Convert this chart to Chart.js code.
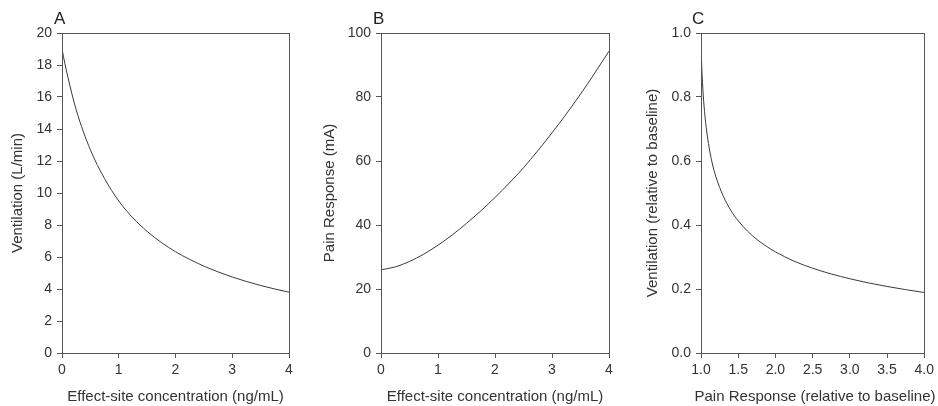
<!DOCTYPE html>
<html>
<head>
<meta charset="utf-8">
<script src="https://cdn.jsdelivr.net/npm/chart.js@4"></script>
<style>
  body { margin: 0; background: #fff; width: 938px; height: 406px; position: relative; overflow: hidden; font-family: 'Liberation Sans', Arial, sans-serif; }
  canvas { position: absolute; top: 0; }
  .tag { position: absolute; top: 10px; font-size: 17px; line-height: 17px; color: #222; }
  .xtitle { position: absolute; top: 387px; width: 300px; text-align: center; font-size: 15px; line-height: 18px; color: #333; white-space: nowrap; }
</style>
</head>
<body>
<canvas id="chartA" width="300" height="406" style="left:0px"></canvas>
<canvas id="chartB" width="300" height="406" style="left:319px"></canvas>
<canvas id="chartC" width="299" height="406" style="left:639px"></canvas>
<div class="tag" style="left:54px">A</div>
<div class="tag" style="left:373px">B</div>
<div class="tag" style="left:692px">C</div>
<div class="xtitle" style="left:665px">Pain Response (relative to baseline)</div>
<script>
// Panel A: ventilation vs effect-site concentration
const concA = [0, 0.05, 0.1, 0.25, 0.5, 0.75, 1, 1.25, 1.5, 1.75, 2, 2.25, 2.5, 2.75, 3, 3.25, 3.5, 3.75, 4];
const ventA = [19.0, 18.1, 17.3, 15.2, 12.7, 10.9, 9.5, 8.44, 7.6, 6.91, 6.33, 5.85, 5.43, 5.07, 4.75, 4.47, 4.22, 4.0, 3.8];

// Panel B: pain response vs effect-site concentration
const concB = [0, 0.25, 0.5, 0.75, 1, 1.25, 1.5, 1.75, 2, 2.25, 2.5, 2.75, 3, 3.25, 3.5, 3.75, 4];
const painB = [26.0, 26.9, 28.6, 30.9, 33.7, 36.9, 40.5, 44.4, 48.6, 53.1, 57.9, 63.2, 68.8, 74.7, 80.9, 87.5, 94.3];

// Panel C: relative ventilation vs relative pain response
const painC = [1.0, 1.002, 1.005, 1.01, 1.02, 1.04, 1.07, 1.1, 1.15, 1.2, 1.3, 1.4, 1.5, 1.625, 1.75, 1.875, 2.0, 2.25, 2.5, 2.75, 3.0, 3.25, 3.5, 3.75, 4.0];
const ventC = [1.0, 0.96, 0.93, 0.895, 0.845, 0.775, 0.705, 0.655, 0.594, 0.551, 0.49, 0.446, 0.413, 0.381, 0.355, 0.334, 0.316, 0.287, 0.265, 0.247, 0.232, 0.219, 0.208, 0.198, 0.189];

const FONT = "'Liberation Sans', Arial, sans-serif";
const AXIS = '#555';
const TXT = '#333';

// box around the plot area (top and right sides)
const frame = {
    id: 'frame',
    afterDraw(chart) {
        const { ctx, chartArea: a } = chart;
        ctx.save();
        ctx.strokeStyle = AXIS;
        ctx.lineWidth = 1;
        ctx.strokeRect(Math.round(a.left) + 0.5, Math.round(a.top) + 0.5, Math.round(a.right - a.left), Math.round(a.bottom - a.top));
        ctx.restore();
    }
};

function makePanel(id, xs, ys, opt) {
    const pts = xs.map((x, i) => ({ x, y: ys[i] }));
    new Chart(document.getElementById(id), {
        type: 'scatter',
        data: { datasets: [{ data: pts, showLine: true, borderColor: '#3a3a3a', borderWidth: 1, pointRadius: 0, cubicInterpolationMode: 'monotone', fill: false }] },
        options: {
            responsive: false,
            animation: false,
            layout: { padding: { top: 33, right: opt.padRight, bottom: 0, left: 0 } },
            plugins: { legend: { display: false }, tooltip: { enabled: false } },
            scales: {
                x: {
                    type: 'linear', min: opt.xMin, max: opt.xMax,
                    afterFit: s => { s.height = 53; },
                    border: { color: AXIS, width: 1 },
                    grid: { drawOnChartArea: false, drawTicks: true, tickLength: 5, color: AXIS },
                    ticks: { stepSize: opt.xStep, padding: 4, color: TXT, font: { family: FONT, size: 14 }, callback: opt.xFmt, maxRotation: 0 },
                    // C's title is wider than its plot, so it is written as a div instead
                    title: { display: !!opt.xTitle, text: opt.xTitle || '', color: TXT, font: { family: FONT, size: 15 }, padding: { top: 0, bottom: 0 } }
                },
                y: {
                    type: 'linear', min: opt.yMin, max: opt.yMax,
                    afterFit: s => { s.width = 62; },
                    border: { color: AXIS, width: 1 },
                    grid: { drawOnChartArea: false, drawTicks: true, tickLength: 5, color: AXIS },
                    ticks: { stepSize: opt.yStep, padding: 5, color: TXT, font: { family: FONT, size: 14 }, callback: opt.yFmt },
                    title: { display: true, text: opt.yTitle, color: TXT, font: { family: FONT, size: 15 }, padding: { top: opt.yTitlePad, bottom: 0 } }
                }
            }
        },
        plugins: [frame]
    });
}

makePanel('chartA', concA, ventA, {
    xMin: 0, xMax: 4, xStep: 1, yMin: 0, yMax: 20, yStep: 2, padRight: 11,
    xTitle: 'Effect-site concentration (ng/mL)', yTitle: 'Ventilation (L/min)', yTitlePad: 9,
    xFmt: v => v, yFmt: v => v
});
makePanel('chartB', concB, painB, {
    xMin: 0, xMax: 4, xStep: 1, yMin: 0, yMax: 100, yStep: 20, padRight: 10,
    xTitle: 'Effect-site concentration (ng/mL)', yTitle: 'Pain Response (mA)', yTitlePad: 2,
    xFmt: v => v, yFmt: v => v
});
makePanel('chartC', painC, ventC, {
    xMin: 1, xMax: 4, xStep: 0.5, yMin: 0, yMax: 1, yStep: 0.2, padRight: 10,
    xTitle: null, yTitle: 'Ventilation (relative to baseline)', yTitlePad: 5,
    xFmt: v => v.toFixed(1), yFmt: v => v.toFixed(1)
});
</script>
</body>
</html>
